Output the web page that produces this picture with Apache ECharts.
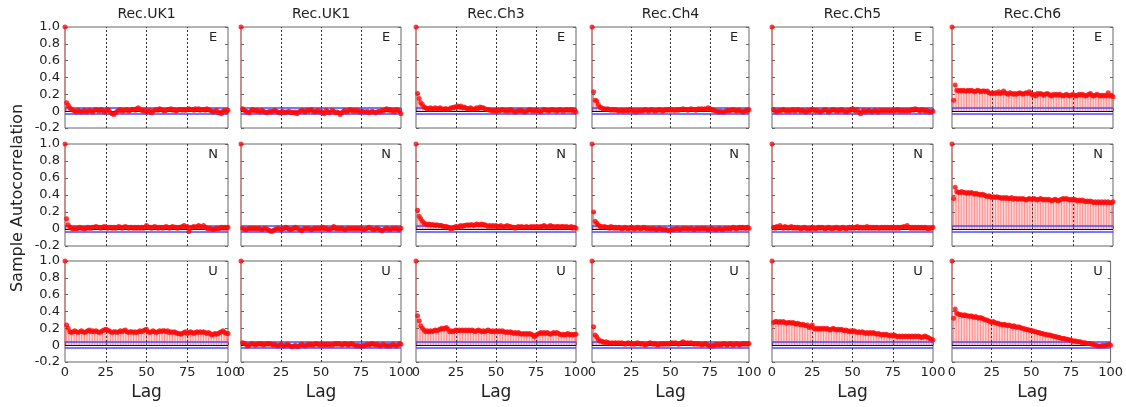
<!DOCTYPE html>
<html><head><meta charset="utf-8">
<script src="https://cdn.jsdelivr.net/npm/echarts@6/dist/echarts.min.js"></script>
<style>html,body{margin:0;padding:0;background:#fff}#c{width:1126px;height:407px}</style>
</head><body><div id="c"></div>
<script>
// ---------- DATA ----------
const columnTitles = ['Rec.UK1','Rec.UK1','Rec.Ch3','Rec.Ch4','Rec.Ch5','Rec.Ch6'];
const rowLabels = ['E','N','U'];
const xTicks = [0,25,50,75,100];
const yTicks = [-0.2,0,0.2,0.4,0.6,0.8,1.0];
const confUpper = 0.04, confLower = -0.03;
const gridLags = [25,50,75];

const e_uk1a = [1,0.10,0.07,0.04,0.02,0.01,0.00,-0.01,0.01,0.00,-0.01,
0.00,0.01,-0.01,0.00,0.01,0.00,-0.01,0.01,0.02,0.01,
0.00,0.02,0.01,-0.01,0.00,0.02,0.01,-0.02,-0.03,-0.04,
-0.02,0.00,0.01,0.02,0.00,0.01,0.01,0.02,0.00,0.01,
0.02,0.02,0.01,0.03,0.04,0.02,0.01,0.00,0.01,-0.01,
0.00,0.01,-0.02,0.00,0.01,0.02,0.01,0.03,0.02,0.01,
0.00,0.01,0.02,0.02,0.03,0.01,0.02,0.00,0.01,0.02,
0.02,0.01,0.02,0.01,0.02,0.03,0.02,0.02,0.01,0.03,
0.02,0.03,0.01,0.02,0.02,0.01,0.03,0.02,0.01,0.00,
-0.01,0.00,0.01,-0.02,-0.01,-0.03,0.00,0.01,-0.01,0.01];
const e_uk1b = [1,0.03,0.01,0.00,-0.01,-0.02,0.00,0.02,0.01,0.00,0.01,
0.00,-0.01,0.01,0.00,-0.01,-0.02,-0.01,0.00,-0.01,0.00,
0.01,0.00,-0.01,-0.02,-0.01,0.00,-0.02,-0.01,-0.01,0.00,
-0.02,-0.01,-0.02,-0.01,-0.03,-0.01,0.00,0.01,0.00,-0.01,
0.01,0.00,0.01,0.02,0.00,-0.01,0.00,0.01,-0.01,0.00,
-0.02,-0.03,0.01,0.00,-0.02,-0.01,0.01,0.00,-0.02,-0.01,
-0.02,-0.04,-0.02,0.00,0.01,-0.01,0.00,0.02,0.01,0.00,
0.01,0.00,0.01,-0.01,0.00,0.00,-0.01,-0.01,0.00,-0.02,
-0.01,0.00,-0.01,-0.02,-0.01,0.00,-0.01,0.01,0.00,0.02,
0.03,0.01,0.02,0.00,0.01,-0.01,0.02,0.01,0.00,-0.03];
const e_ch3 = [1,0.21,0.15,0.10,0.08,0.05,0.04,0.03,0.03,0.04,0.03,
0.03,0.04,0.03,0.03,0.04,0.03,0.02,0.03,0.03,0.02,
0.03,0.04,0.04,0.05,0.05,0.06,0.05,0.06,0.04,0.05,
0.04,0.03,0.03,0.04,0.03,0.02,0.03,0.04,0.03,0.05,
0.04,0.04,0.03,0.02,0.02,0.01,0.01,0.00,0.01,0.00,
0.01,0.00,0.01,0.02,0.01,0.00,0.01,0.00,0.02,0.01,
0.00,-0.01,0.00,0.01,0.00,0.01,0.00,-0.01,0.00,0.01,
0.02,0.01,0.00,0.01,0.00,0.01,0.00,-0.01,0.01,0.02,
0.01,0.01,0.00,0.01,0.02,0.01,0.01,0.00,0.01,0.02,
0.01,0.00,0.01,0.02,0.01,0.01,0.02,0.00,0.01,-0.01];
const e_ch4 = [1,0.23,0.13,0.12,0.08,0.05,0.04,0.03,0.03,0.02,0.03,
0.02,0.01,0.02,0.01,0.02,0.01,0.00,0.01,0.01,0.00,
0.01,0.01,0.00,0.02,0.01,0.00,0.01,-0.01,0.01,0.00,
0.01,0.00,0.01,0.02,0.01,0.00,0.01,0.02,0.01,0.00,
0.01,0.01,0.02,0.01,0.00,0.01,0.02,0.01,0.02,0.01,
0.02,0.01,0.01,0.02,0.01,0.02,0.02,0.03,0.02,0.02,
0.01,0.02,0.03,0.02,0.02,0.01,0.02,0.03,0.02,0.03,
0.02,0.03,0.02,0.04,0.03,0.02,0.01,0.01,0.00,0.00,
-0.01,0.00,-0.01,-0.01,0.00,0.01,0.00,0.01,0.01,0.02,
0.01,0.00,0.01,0.01,0.00,-0.01,0.00,0.01,0.00,0.02];
const e_ch5 = [1,0.02,0.00,-0.01,0.01,0.00,0.01,0.02,0.01,0.00,0.01,
0.00,0.01,0.02,0.00,0.01,0.02,0.01,0.00,0.01,0.00,
-0.01,0.01,0.00,0.01,0.02,0.01,0.00,0.01,0.00,-0.01,
0.00,0.01,0.02,0.01,-0.01,0.00,0.01,0.02,0.01,0.00,
0.01,0.00,0.02,0.01,0.00,-0.01,0.01,0.00,0.02,0.03,
0.01,0.00,0.02,-0.01,-0.03,0.00,0.01,-0.01,0.00,0.01,
0.00,-0.01,0.00,0.01,0.00,-0.01,0.01,0.00,0.01,0.00,
0.01,0.00,0.01,0.00,0.01,0.00,0.01,0.02,0.00,0.01,
0.00,0.01,0.00,0.01,0.00,0.01,0.02,0.01,0.03,0.02,
0.01,0.00,0.02,0.01,0.00,0.01,0.00,-0.01,0.00,0.00];
const e_ch6 = [1,0.13,0.31,0.25,0.24,0.25,0.24,0.25,0.24,0.24,0.25,
0.24,0.25,0.24,0.23,0.24,0.25,0.24,0.23,0.24,0.24,
0.23,0.24,0.22,0.21,0.22,0.21,0.22,0.21,0.23,0.21,
0.22,0.24,0.22,0.21,0.20,0.22,0.21,0.20,0.21,0.20,
0.21,0.22,0.21,0.20,0.21,0.22,0.21,0.23,0.21,0.19,
0.20,0.18,0.21,0.20,0.21,0.20,0.19,0.20,0.21,0.20,
0.19,0.18,0.20,0.19,0.20,0.19,0.20,0.19,0.18,0.19,
0.20,0.19,0.18,0.19,0.20,0.19,0.18,0.19,0.20,0.19,
0.20,0.19,0.18,0.19,0.20,0.21,0.19,0.18,0.19,0.20,
0.19,0.18,0.19,0.18,0.19,0.18,0.22,0.18,0.19,0.17];

const n_uk1a = [1,0.12,0.05,0.02,0.01,0.00,0.01,0.00,0.01,0.02,0.01,
0.01,0.00,0.01,0.02,0.01,0.01,0.02,0.02,0.03,0.02,
0.02,0.01,0.02,0.03,0.02,0.01,0.02,0.02,0.01,0.02,
0.01,0.02,0.03,0.02,0.01,0.02,0.03,0.02,0.01,0.02,
0.02,0.01,0.02,0.01,0.02,0.01,0.02,0.01,0.02,0.04,
0.02,0.02,0.01,0.02,0.03,0.02,0.01,0.02,0.02,0.01,
0.02,0.03,0.02,0.01,0.02,0.03,0.02,0.02,0.01,0.02,
0.02,0.03,0.04,0.02,0.03,-0.03,0.01,0.02,0.03,0.02,
0.03,0.04,0.03,0.02,0.04,0.02,0.01,0.00,0.01,0.00,
-0.01,0.00,0.01,0.00,0.01,0.02,0.01,0.02,0.01,0.02];
const n_uk1b = [1,0.01,0.00,-0.01,0.00,0.01,0.00,0.01,0.00,0.01,0.00,
0.01,0.00,-0.01,0.00,0.01,0.00,-0.01,-0.02,-0.03,-0.02,
-0.01,0.00,0.01,0.00,-0.01,0.00,0.01,0.02,0.01,0.00,
-0.01,0.00,0.01,0.02,0.01,0.00,-0.01,-0.02,0.00,0.01,
0.00,0.01,0.00,-0.01,0.00,0.01,0.00,0.01,0.00,0.01,
0.02,0.00,0.01,0.00,-0.01,0.00,0.01,0.03,0.01,0.00,
0.01,0.00,0.01,0.00,-0.01,0.00,0.01,0.00,0.01,0.00,
0.01,0.00,0.01,0.00,0.01,0.00,-0.01,0.00,0.01,0.02,
0.01,0.00,-0.01,0.00,0.01,0.00,-0.01,-0.02,-0.01,0.00,
0.01,0.00,-0.01,0.00,0.01,0.00,0.01,0.00,-0.01,0.01];
const n_ch3 = [1,0.22,0.15,0.12,0.09,0.07,0.06,0.05,0.06,0.05,0.05,
0.05,0.04,0.05,0.04,0.04,0.04,0.03,0.03,0.03,0.02,
0.01,0.00,0.01,0.02,0.03,0.02,0.03,0.04,0.03,0.04,
0.04,0.05,0.04,0.05,0.05,0.04,0.05,0.06,0.05,0.05,
0.06,0.05,0.05,0.04,0.03,0.04,0.03,0.04,0.03,0.04,
0.03,0.03,0.04,0.02,0.03,0.03,0.04,0.03,0.03,0.02,
0.02,0.01,0.02,0.03,0.02,0.03,0.02,0.02,0.03,0.02,
0.02,0.03,0.02,0.03,0.02,0.03,0.02,0.03,0.03,0.04,
0.03,0.02,0.03,0.04,0.03,0.03,0.02,0.03,0.03,0.02,
0.03,0.03,0.02,0.03,0.02,0.02,0.03,0.01,0.02,0.01];
const n_ch4 = [1,0.20,0.09,0.07,0.05,0.03,0.03,0.02,0.03,0.02,0.02,
0.01,0.03,0.02,0.01,0.02,0.01,0.02,0.01,0.00,0.01,
0.02,0.01,0.00,0.01,0.02,0.01,0.00,0.01,0.02,0.01,
0.00,0.01,0.02,0.01,0.00,0.01,0.00,0.00,0.01,0.00,
-0.01,0.00,0.01,0.00,-0.01,0.00,-0.01,-0.01,-0.02,-0.01,
0.00,-0.01,0.00,0.01,0.00,-0.01,0.00,0.01,0.00,0.01,
0.00,0.00,0.01,0.00,-0.01,0.00,0.01,0.00,0.00,0.01,
0.00,0.01,0.00,-0.01,0.00,0.01,0.00,0.00,-0.01,0.00,
0.01,0.00,-0.01,0.00,0.01,0.00,0.01,0.00,0.01,0.02,
0.01,0.00,0.01,0.02,0.01,0.02,0.01,0.01,0.02,0.01];
const n_ch5 = [1,0.02,0.01,0.03,0.02,0.04,0.02,0.01,0.03,0.02,0.01,
0.02,0.03,0.01,0.02,0.01,0.02,0.01,0.00,0.01,0.02,
0.01,0.00,0.01,0.00,0.02,0.01,0.00,0.01,0.02,0.01,
0.02,0.01,0.00,0.01,0.02,0.01,0.00,0.01,0.01,0.02,
0.01,0.00,0.01,0.02,0.01,0.00,0.01,0.02,0.01,0.02,
0.01,0.02,0.03,0.01,0.02,0.01,0.02,0.01,0.03,0.01,
0.02,0.01,0.02,0.01,0.02,0.01,0.01,0.02,0.01,0.02,
0.01,0.02,0.01,0.02,0.01,0.02,0.01,0.02,0.01,0.02,
0.02,0.03,0.02,0.04,0.02,0.01,0.02,0.01,0.02,0.01,
0.02,0.01,0.02,0.01,0.02,0.01,0.00,0.01,0.01,0.02];
const n_ch6 = [1,0.36,0.49,0.44,0.43,0.43,0.44,0.43,0.43,0.42,0.43,
0.42,0.43,0.42,0.41,0.42,0.41,0.41,0.40,0.41,0.40,
0.39,0.38,0.39,0.38,0.37,0.38,0.37,0.38,0.37,0.37,
0.36,0.37,0.36,0.37,0.36,0.36,0.37,0.35,0.36,0.36,
0.35,0.36,0.35,0.36,0.35,0.34,0.35,0.36,0.35,0.35,
0.36,0.35,0.34,0.35,0.36,0.35,0.34,0.35,0.34,0.35,
0.34,0.33,0.34,0.35,0.34,0.33,0.34,0.35,0.36,0.35,
0.36,0.35,0.34,0.35,0.34,0.35,0.34,0.33,0.34,0.33,
0.34,0.33,0.32,0.33,0.32,0.33,0.32,0.31,0.32,0.31,
0.32,0.31,0.32,0.31,0.32,0.31,0.32,0.31,0.31,0.32];

const u_uk1a = [1,0.24,0.20,0.16,0.15,0.16,0.17,0.16,0.15,0.16,0.17,
0.16,0.15,0.16,0.17,0.18,0.16,0.17,0.16,0.17,0.16,
0.15,0.16,0.17,0.18,0.19,0.18,0.17,0.16,0.15,0.16,
0.16,0.15,0.16,0.17,0.16,0.17,0.18,0.16,0.15,0.16,
0.16,0.15,0.16,0.15,0.16,0.17,0.16,0.17,0.18,0.19,
0.16,0.15,0.16,0.17,0.16,0.15,0.16,0.17,0.16,0.17,
0.17,0.16,0.17,0.15,0.16,0.15,0.16,0.15,0.14,0.14,
0.13,0.14,0.15,0.16,0.14,0.15,0.16,0.15,0.14,0.15,
0.16,0.15,0.16,0.15,0.16,0.15,0.14,0.15,0.14,0.12,
0.13,0.14,0.13,0.14,0.15,0.16,0.17,0.15,0.14,0.14];
const u_uk1b = [1,0.03,0.02,0.01,-0.01,0.00,0.01,0.02,0.01,0.00,0.01,
0.02,0.01,0.02,0.00,0.01,0.02,0.01,0.02,0.01,0.00,
0.01,0.00,-0.01,0.00,0.01,0.00,-0.01,0.00,0.01,0.00,
-0.01,-0.02,-0.01,0.00,-0.02,-0.01,0.00,0.01,0.00,-0.01,
0.00,0.01,0.00,0.01,0.00,0.01,0.02,0.01,0.00,0.01,
0.00,0.01,0.00,0.01,0.00,0.01,0.00,0.01,0.02,0.01,
0.02,0.01,0.00,0.01,0.02,0.01,0.00,0.01,0.02,0.01,
0.00,-0.01,0.00,-0.01,-0.01,0.00,-0.01,0.00,0.01,0.00,
0.01,0.02,0.01,0.00,0.01,0.00,-0.01,0.00,0.01,0.00,
-0.01,0.00,-0.01,0.00,0.01,0.00,-0.01,0.00,0.02,0.01];
const u_ch3 = [1,0.35,0.29,0.23,0.20,0.18,0.16,0.17,0.16,0.17,0.16,
0.17,0.18,0.17,0.18,0.19,0.20,0.19,0.20,0.21,0.19,
0.16,0.17,0.16,0.17,0.18,0.17,0.18,0.17,0.18,0.17,
0.18,0.17,0.18,0.17,0.18,0.17,0.16,0.17,0.18,0.17,
0.16,0.17,0.16,0.17,0.18,0.17,0.16,0.17,0.16,0.17,
0.16,0.17,0.16,0.17,0.16,0.15,0.16,0.15,0.16,0.15,
0.14,0.15,0.14,0.15,0.14,0.13,0.14,0.13,0.14,0.13,
0.14,0.13,0.12,0.10,0.12,0.13,0.14,0.15,0.14,0.15,
0.14,0.15,0.14,0.13,0.14,0.15,0.14,0.15,0.14,0.13,
0.12,0.13,0.12,0.13,0.14,0.12,0.13,0.12,0.13,0.13];
const u_ch4 = [1,0.22,0.12,0.10,0.07,0.05,0.05,0.04,0.03,0.04,0.03,
0.03,0.02,0.03,0.02,0.03,0.02,0.03,0.02,0.03,0.02,
0.01,0.02,0.03,0.02,0.01,0.02,0.01,0.02,0.03,0.02,
0.01,0.02,0.01,0.00,0.01,0.02,0.03,0.02,0.01,0.02,
0.01,0.00,0.01,0.02,0.01,0.02,0.01,0.02,0.01,0.02,
0.03,0.02,0.03,0.02,0.01,0.02,0.03,0.04,0.03,0.02,
0.03,0.02,0.03,0.02,0.01,0.02,0.01,0.02,0.01,0.00,
0.01,0.02,0.01,0.00,-0.01,0.00,-0.01,0.00,0.01,0.00,
0.01,0.00,0.01,0.02,0.01,0.00,0.01,0.02,0.01,0.00,
0.01,0.02,0.01,0.00,0.01,0.02,0.01,0.02,0.01,0.02];
const u_ch5 = [1,0.27,0.28,0.28,0.27,0.28,0.27,0.28,0.27,0.26,0.27,
0.27,0.26,0.27,0.26,0.25,0.26,0.25,0.24,0.25,0.24,
0.23,0.24,0.21,0.22,0.24,0.20,0.19,0.20,0.19,0.20,
0.19,0.20,0.19,0.20,0.19,0.18,0.19,0.20,0.19,0.18,
0.19,0.18,0.19,0.18,0.17,0.18,0.17,0.16,0.17,0.16,
0.17,0.16,0.15,0.16,0.15,0.16,0.15,0.14,0.15,0.14,
0.15,0.14,0.15,0.14,0.13,0.14,0.13,0.12,0.13,0.12,
0.13,0.12,0.11,0.12,0.11,0.12,0.11,0.10,0.11,0.10,
0.11,0.10,0.11,0.10,0.11,0.10,0.11,0.10,0.11,0.10,
0.11,0.10,0.09,0.10,0.11,0.10,0.09,0.08,0.07,0.06];
const u_ch6 = [1,0.32,0.43,0.38,0.37,0.36,0.36,0.35,0.36,0.35,0.35,
0.34,0.35,0.34,0.33,0.34,0.33,0.32,0.33,0.32,0.31,
0.30,0.30,0.29,0.28,0.27,0.28,0.27,0.26,0.26,0.25,
0.25,0.24,0.25,0.24,0.23,0.24,0.23,0.22,0.23,0.22,
0.21,0.22,0.21,0.20,0.20,0.19,0.19,0.18,0.18,0.17,
0.17,0.16,0.16,0.15,0.15,0.14,0.14,0.13,0.13,0.12,
0.12,0.12,0.11,0.11,0.10,0.10,0.09,0.09,0.08,0.08,
0.08,0.07,0.07,0.06,0.06,0.05,0.05,0.05,0.04,0.04,
0.04,0.03,0.03,0.03,0.02,0.02,0.02,0.01,0.01,0.00,
0.00,-0.01,-0.01,-0.01,0.00,-0.01,0.00,0.00,0.01,0.00];

const panelData = [
  [e_uk1a, e_uk1b, e_ch3, e_ch4, e_ch5, e_ch6],
  [n_uk1a, n_uk1b, n_ch3, n_ch4, n_ch5, n_ch6],
  [u_uk1a, u_uk1b, u_ch3, u_ch4, u_ch5, u_ch6]
];

// ---------- LAYOUT ----------
const colLeft = [65, 241, 416, 592, 772, 952];
const colWidth = [163, 160, 160, 157, 161, 161];
const rowTop = [27, 144, 261];
const rowHeight = [101, 102, 101];
const FONT = '"DejaVu Sans", Verdana, sans-serif';

const grids = [], xAxes = [], yAxes = [], series = [], graphics = [];
const fmtY = v => Math.abs(v) < 1e-9 ? '0' : v.toFixed(1);

for (let r = 0; r < 3; r++) {
  for (let c = 0; c < 6; c++) {
    const k = r * 6 + c;
    grids.push({left: colLeft[c], top: rowTop[r], width: colWidth[c], height: rowHeight[r],
      show: true, borderColor: '#666', borderWidth: 1, backgroundColor: '#fff', containLabel: false});
    xAxes.push({gridIndex: k, type: 'value', min: xTicks[0], max: xTicks[xTicks.length-1], interval: 25,
      axisLine: {show: false},
      axisTick: {show: true, inside: true, length: 3, lineStyle: {color: '#666'}},
      axisLabel: {show: r === 2, fontSize: 13, color: '#222', margin: 4, fontFamily: FONT},
      splitLine: {show: false}});
    const yBase = {gridIndex: k, type: 'value', min: yTicks[0], max: yTicks[yTicks.length-1], interval: 0.2,
      axisLine: {show: false}, splitLine: {show: false},
      axisTick: {show: true, inside: true, length: 3, lineStyle: {color: '#666'}}};
    yAxes.push(Object.assign({}, yBase, {position: 'left',
      axisLabel: {show: c === 0, fontSize: 13, color: '#222', margin: 5, fontFamily: FONT, formatter: fmtY}}));
    yAxes.push(Object.assign({}, yBase, {position: 'right', axisLabel: {show: false}}));

    const vals = panelData[r][c];
    const pts = vals.map((v, i) => [i, v]);
    const ml = [
      {yAxis: confUpper, lineStyle: {color: '#4848ff', width: 1.6, type: 'solid'}},
      {yAxis: confLower, lineStyle: {color: '#4848ff', width: 1.6, type: 'solid'}},
      {yAxis: 0, lineStyle: {color: '#000', width: 1, type: 'solid'}}
    ].concat(gridLags.map(g => ({xAxis: g, lineStyle: {color: '#333', width: 1, type: [2, 2]}})));
    series.push({type: 'bar', xAxisIndex: k, yAxisIndex: 2 * k, data: pts, barWidth: 1,
      itemStyle: {color: 'rgba(255,50,50,0.55)'}, silent: true, z: 2,
      markLine: {silent: true, symbol: 'none', label: {show: false}, data: ml, z: 3}});
    series.push({type: 'scatter', xAxisIndex: k, yAxisIndex: 2 * k, data: pts, symbolSize: 5,
      itemStyle: {color: '#ff0a0a'}, silent: true, z: 4});

    graphics.push({type: 'text', x: colLeft[c] + colWidth[c] - 15, y: rowTop[r] + 11,
      style: {text: rowLabels[r], font: '13px ' + FONT, fill: '#222', align: 'center', verticalAlign: 'middle'}});
  }
}
for (let c = 0; c < 6; c++) {
  const cx = colLeft[c] + colWidth[c] / 2;
  graphics.push({type: 'text', x: cx, y: 14,
    style: {text: columnTitles[c], font: '14px ' + FONT, fill: '#222', align: 'center', verticalAlign: 'middle'}});
  graphics.push({type: 'text', x: cx, y: 393,
    style: {text: 'Lag', font: '17px ' + FONT, fill: '#222', align: 'center', verticalAlign: 'middle'}});
}
graphics.push({type: 'text', x: 18, y: 198, rotation: Math.PI / 2,
  style: {text: 'Sample Autocorrelation', font: '16px ' + FONT, fill: '#222', align: 'center', verticalAlign: 'middle'}});

const chart = echarts.init(document.getElementById('c'), null, {renderer: 'canvas'});
chart.setOption({animation: false, backgroundColor: '#fff', textStyle: {fontFamily: FONT},
  grid: grids, xAxis: xAxes, yAxis: yAxes, series: series, graphic: graphics});
</script></body></html>
